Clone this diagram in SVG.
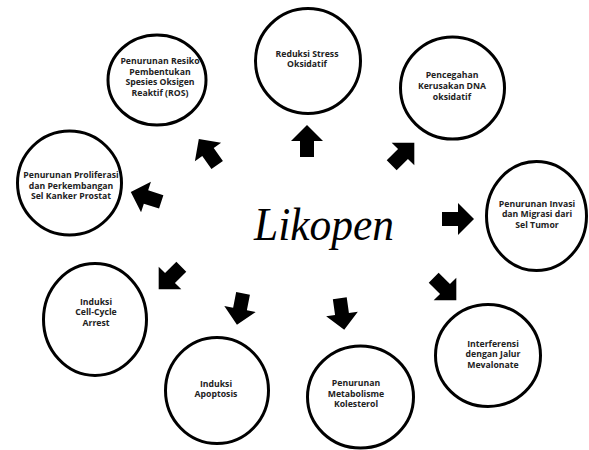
<svg xmlns="http://www.w3.org/2000/svg" width="589" height="450" viewBox="0 0 589 450">
<defs>
<style>
.node ellipse{fill:#fff;stroke:#000;stroke-width:3}
.node text{font-family:"Open Sans","Noto Sans",sans-serif;font-weight:bold;font-size:8.7px;fill:#222;text-anchor:middle}
.arr{fill:#000}
.title{font-family:"Liberation Serif","DejaVu Serif",serif;font-style:italic;font-size:46px;fill:#000}
</style>
<path id="ar" d="M0,-16 L16,0 L7,0 L7,16 L-7,16 L-7,0 L-16,0 Z"/>
</defs>
<rect width="589" height="450" fill="#fff"/>
<g id="connectors" class="arr">
<use href="#ar" transform="translate(208,152) rotate(-35)"/>
<use href="#ar" transform="translate(307,141)"/>
<use href="#ar" transform="translate(403,154) rotate(45)"/>
<use href="#ar" transform="translate(146,197) rotate(-72)"/>
<use href="#ar" transform="translate(458,219) rotate(90)"/>
<use href="#ar" transform="translate(170,278) rotate(-135)"/>
<use href="#ar" transform="translate(240,309) rotate(191)"/>
<use href="#ar" transform="translate(342,314) rotate(172)"/>
<use href="#ar" transform="translate(445,289) rotate(135)"/>
</g>
<g id="center"><text class="title" x="324" y="240" text-anchor="middle" textLength="140" lengthAdjust="spacingAndGlyphs">Likopen</text></g>
<g id="n-ros" class="node"><ellipse cx="157" cy="80" rx="49" ry="45"/>
<text x="160" y="64">Penurunan Resiko<tspan x="160" dy="10.5">Pembentukan</tspan><tspan x="160" dy="10.5">Spesies Oksigen</tspan><tspan x="160" dy="10.5">Reaktif (ROS)</tspan></text></g>
<g id="n-stress" class="node"><ellipse cx="308" cy="61" rx="52.5" ry="52.5"/>
<text x="307" y="56.5">Reduksi Stress<tspan x="307" dy="10.5">Oksidatif</tspan></text></g>
<g id="n-dna" class="node"><ellipse cx="452.5" cy="88" rx="52" ry="51"/>
<text x="452" y="78">Pencegahan<tspan x="452" dy="10.8">Kerusakan DNA</tspan><tspan x="452" dy="10.8">oksidatif</tspan></text></g>
<g id="n-prolif" class="node"><ellipse cx="69.5" cy="183" rx="52" ry="52"/>
<text x="71" y="178">Penurunan Proliferasi<tspan x="71" dy="10.5">dan Perkembangan</tspan><tspan x="71" dy="10.5">Sel Kanker Prostat</tspan></text></g>
<g id="n-invasi" class="node"><ellipse cx="536.5" cy="216" rx="50" ry="54.5"/>
<text x="537" y="206.5">Penurunan Invasi<tspan x="537" dy="10.5">dan Migrasi dari</tspan><tspan x="537" dy="10.5">Sel Tumor</tspan></text></g>
<g id="n-cycle" class="node"><ellipse cx="95" cy="319.5" rx="51.5" ry="56"/>
<text x="96" y="304.5">Induksi<tspan x="96" dy="10.6">Cell-Cycle</tspan><tspan x="96" dy="10.6">Arrest</tspan></text></g>
<g id="n-apop" class="node"><ellipse cx="217" cy="390.5" rx="51.5" ry="53"/>
<text x="216" y="386.5">Induksi<tspan x="216" dy="10.5">Apoptosis</tspan></text></g>
<g id="n-kol" class="node"><ellipse cx="360.5" cy="397" rx="53" ry="51"/>
<text x="356" y="386">Penurunan<tspan x="356" dy="10.5">Metabolisme</tspan><tspan x="356" dy="10.5">Kolesterol</tspan></text></g>
<g id="n-meva" class="node"><ellipse cx="488" cy="355.5" rx="52.5" ry="51"/>
<text x="493" y="346.5">Interferensi<tspan x="493" dy="10.5">dengan Jalur</tspan><tspan x="493" dy="10.5">Mevalonate</tspan></text></g>
</svg>
